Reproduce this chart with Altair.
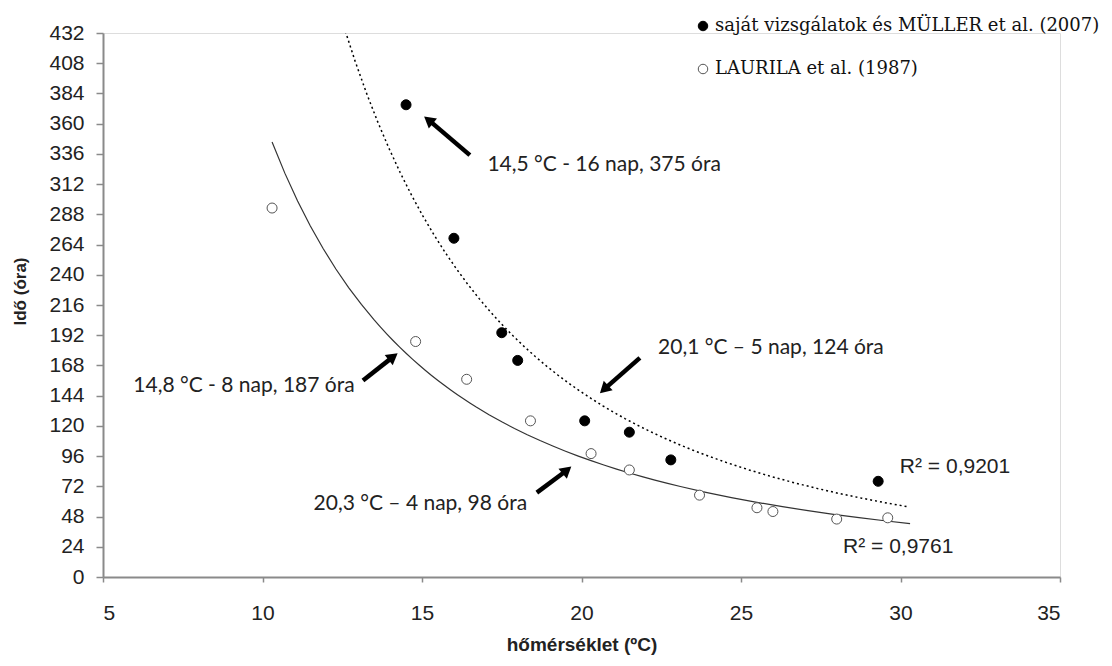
import altair as alt
import pandas as pd

# ---- data ----
own_label = "saját vizsgálatok és MÜLLER et al. (2007)"
lau_label = "LAURILA et al. (1987)"

own_t = [14.5, 16.0, 17.5, 18.0, 20.1, 21.5, 22.8, 29.3]
own_h = [375, 269, 194, 172, 124, 115, 93, 76]

lau_t = [10.3, 14.8, 16.4, 18.4, 20.3, 21.5, 23.7, 25.5, 26.0, 28.0, 29.6]
lau_h = [293, 187, 157, 124, 98, 85, 65, 55, 52, 46, 47]

x_ticks = [5, 10, 15, 20, 25, 30, 35]
y_ticks = list(range(0, 433, 24))

# annotation texts and their anchor points (data units)
note_text = ["14,5 °C - 16 nap, 375 óra", "14,8 °C - 8 nap, 187 óra",
             "20,1 °C – 5 nap, 124 óra", "20,3 °C – 4 nap, 98 óra"]
note_t = [17.05, 5.95, 22.4, 11.6]
note_h = [327, 152, 182, 58]

# arrows: tail -> head
arr_t = [16.5, 13.15, 21.83, 18.6]
arr_h = [335, 156, 174, 67]
arr_t2 = [15.25, 14.05, 20.75, 19.5]
arr_h2 = [362, 174, 150, 84]
arr_angle = [309, 52, 227, 50]

r2_text = ["R² = 0,9201", "R² = 0,9761"]
r2_t = [29.98, 28.2]
r2_h = [87, 24]

# ---- tables ----
pts = pd.DataFrame({
    "t": own_t + lau_t,
    "h": own_h + lau_h,
    "s": [own_label] * len(own_t) + [lau_label] * len(lau_t),
})
own_df = pd.DataFrame({"t": own_t, "h": own_h})
lau_df = pd.DataFrame({"t": lau_t, "h": lau_h})
notes = pd.DataFrame({"txt": note_text, "t": note_t, "h": note_h})
arrows = pd.DataFrame({"t": arr_t, "h": arr_h, "t2": arr_t2, "h2": arr_h2, "a": arr_angle})
r2 = pd.DataFrame({"txt": r2_text, "t": r2_t, "h": r2_h})

xs = alt.Scale(domain=[5, 35], nice=False, zero=False)
ys = alt.Scale(domain=[0, 432], nice=False)

axis_common = dict(
    grid=False, labelFont="Liberation Sans", labelFontSize=21, labelColor="#222",
    domainColor="#8a8a8a", domainWidth=2, tickColor="#8a8a8a", tickWidth=1.5,
    titleFont="Liberation Sans", titleFontWeight="bold", titleColor="#222",
    labelOverlap=False,
)
x_axis = alt.Axis(values=x_ticks, title="hőmérséklet (ºC)", tickSize=5, labelPadding=20,
                  titlePadding=12, titleFontSize=19, **axis_common)
y_axis = alt.Axis(values=y_ticks, title="Idő (óra)", tickSize=7, labelPadding=12,
                  titlePadding=19, titleFontSize=17, titleY=258, **axis_common)

X = alt.X("t:Q", scale=xs, axis=x_axis)
Y = alt.Y("h:Q", scale=ys, axis=y_axis)

fit_own = alt.Chart(own_df).transform_regression(
    "t", "h", method="pow", extent=[12.55, 30.2]
).mark_line(color="black", strokeDash=[2, 3], strokeWidth=1.5, clip=True).encode(x=X, y=Y)

fit_lau = alt.Chart(lau_df).transform_regression(
    "t", "h", method="pow", extent=[10.3, 30.3]
).mark_line(color="#333", strokeWidth=1.2, clip=True).encode(x=X, y=Y)

legend = alt.Legend(
    title=None, orient="none", legendX=591, legendY=-16,
    labelFont="DejaVu Serif", labelFontSize=18, labelColor="#111", labelLimit=0,
    rowPadding=25, labelOffset=3, symbolSize=90, symbolStrokeWidth=1,
)
color_dom = [own_label, lau_label]
points = alt.Chart(pts).mark_point(filled=True, size=100, strokeWidth=1, opacity=1).encode(
    x=X, y=Y,
    fill=alt.Fill("s:N", scale=alt.Scale(domain=color_dom, range=["black", "white"]), legend=legend),
    stroke=alt.Stroke("s:N", scale=alt.Scale(domain=color_dom, range=["black", "#555"]), legend=legend),
)

arrow_lines = alt.Chart(arrows).mark_rule(color="black", strokeWidth=4.5).encode(
    x=X, y=Y, x2="t2:Q", y2="h2:Q"
)
arrow_heads = alt.Chart(arrows).mark_point(
    shape="triangle", filled=True, color="black", size=170, opacity=1
).encode(
    x=alt.X("t2:Q", scale=xs, axis=x_axis), y=alt.Y("h2:Q", scale=ys, axis=y_axis),
    angle=alt.Angle("a:Q", scale=None),
)

note_marks = alt.Chart(notes).mark_text(
    align="left", baseline="middle", font="Lato", fontSize=21, color="#222"
).encode(x=X, y=Y, text="txt:N")

r2_marks = alt.Chart(r2).mark_text(
    align="left", baseline="middle", font="Liberation Sans", fontSize=21, color="#222"
).encode(x=X, y=Y, text="txt:N")

chart = alt.layer(
    fit_own, fit_lau, arrow_lines, arrow_heads, points, note_marks, r2_marks
).properties(
    width=957, height=544,
    autosize=alt.AutoSizeParams(type="none"),
    padding={"left": 95, "top": 25, "right": 44, "bottom": 80},
).configure_view(stroke=None).configure(background="white")

chart.save("out.html", embed_options={"renderer": "svg", "actions": False})
